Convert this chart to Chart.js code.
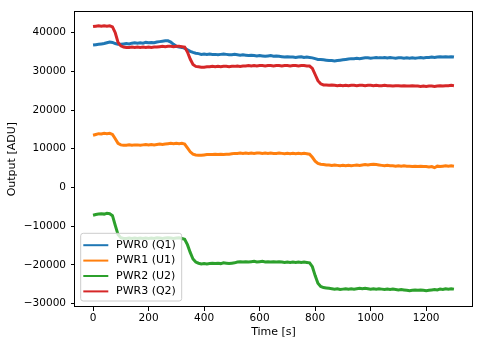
<!DOCTYPE html>
<html><head><meta charset="utf-8">
<script src="https://cdn.jsdelivr.net/npm/chart.js@4/dist/chart.umd.min.js"></script>
<style>html,body{margin:0;padding:0;background:#fff;}#wrap{width:483px;height:347px;}</style>
</head><body><div id="wrap"><canvas id="c" width="483" height="347"></canvas></div>
<script>
const time = [0,10,20,30,40,50,60,70,80,90,100,110,120,130,140,150,160,170,180,190,200,210,220,230,240,250,260,270,280,290,300,310,320,330,340,350,360,370,380,390,400,410,420,430,440,450,460,470,480,490,500,510,520,530,540,550,560,570,580,590,600,610,620,630,640,650,660,670,680,690,700,710,720,730,740,750,760,770,780,790,800,810,820,830,840,850,860,870,880,890,900,910,920,930,940,950,960,970,980,990,1000,1010,1020,1030,1040,1050,1060,1070,1080,1090,1100,1110,1120,1130,1140,1150,1160,1170,1180,1190,1200,1210,1220,1230,1240,1250,1260,1270,1280,1290,1300];

const pwr0 = [36800,36900,37000,37100,37200,37400,37600,37500,37200,37000,37000,37100,37200,37100,37300,37400,37300,37400,37300,37500,37400,37500,37400,37600,37700,37800,37900,37900,37600,37000,36500,36300,36200,36000,35600,35200,34900,34700,34600,34400,34500,34400,34500,34400,34400,34300,34400,34500,34400,34300,34300,34400,34300,34200,34300,34200,34100,34200,34100,34000,34100,34000,33900,34000,34100,33900,34000,33900,33800,33700,33800,33700,33700,33600,33700,33800,33600,33700,33600,33500,33300,33100,33100,33000,32900,32800,32800,32700,32800,32900,33000,33100,33200,33300,33300,33400,33300,33400,33500,33500,33400,33500,33600,33500,33500,33600,33500,33600,33500,33400,33500,33500,33400,33500,33400,33500,33400,33500,33600,33500,33600,33600,33700,33600,33700,33800,33700,33800,33700,33800,33700];

const pwr1 = [13500,13700,13900,13800,14000,13900,14000,13700,12600,11400,11000,10900,10900,11000,10900,11000,11000,10900,11000,11100,11000,11100,11000,11100,11200,11100,11200,11300,11400,11300,11400,11300,11400,11200,10200,9200,8600,8400,8300,8300,8400,8500,8500,8500,8600,8500,8600,8500,8600,8600,8700,8800,8800,8900,8800,8900,8800,8900,8800,8900,8900,8800,8900,8800,8900,8800,8800,8900,8800,8700,8800,8700,8800,8700,8800,8700,8800,8700,8600,7800,6800,6200,6000,5900,5800,5800,5700,5800,5700,5600,5700,5600,5700,5600,5700,5800,5700,5800,5900,5800,5900,6000,5900,5800,5700,5600,5700,5600,5600,5500,5600,5500,5600,5500,5500,5400,5500,5400,5500,5400,5400,5300,5400,5100,5500,5400,5500,5600,5500,5600,5500];

const pwr2 = [-7200,-7000,-6900,-6800,-6900,-6700,-6800,-7300,-9800,-12200,-13000,-13200,-13200,-13100,-13200,-13100,-13200,-13100,-13200,-13100,-13200,-13100,-13200,-13000,-13100,-13200,-13100,-13000,-13100,-13200,-13100,-13000,-13200,-13400,-14800,-16800,-18500,-19300,-19600,-19800,-19700,-19800,-19700,-19600,-19700,-19600,-19700,-19500,-19600,-19700,-19600,-19500,-19300,-19200,-19300,-19200,-19300,-19200,-19100,-19300,-19200,-19100,-19300,-19200,-19300,-19200,-19300,-19200,-19300,-19400,-19300,-19400,-19300,-19400,-19300,-19400,-19300,-19400,-19500,-20500,-22800,-24800,-25600,-25900,-26000,-26100,-26200,-26300,-26200,-26400,-26300,-26200,-26300,-26200,-26300,-26200,-26100,-26200,-26100,-26200,-26300,-26200,-26300,-26200,-26300,-26400,-26300,-26400,-26300,-26400,-26500,-26400,-26500,-26600,-26700,-26600,-26500,-26600,-26500,-26600,-26700,-26600,-26500,-26400,-26500,-26300,-26400,-26200,-26300,-26200,-26300];

const pwr3 = [41600,41700,41800,41700,41800,41700,41800,41500,40000,37500,36600,36300,36200,36200,36300,36200,36300,36200,36300,36200,36300,36200,36300,36300,36400,36500,36400,36500,36500,36400,36500,36500,36400,36300,35000,33200,31800,31300,31200,31100,31100,31200,31200,31300,31200,31300,31200,31300,31300,31200,31300,31300,31400,31300,31400,31400,31500,31400,31500,31400,31500,31500,31400,31500,31500,31400,31500,31500,31400,31500,31500,31400,31500,31500,31400,31500,31500,31400,31400,30800,29200,27600,26800,26500,26500,26400,26500,26400,26300,26400,26300,26400,26300,26400,26400,26300,26400,26400,26300,26400,26400,26300,26400,26300,26300,26400,26300,26300,26200,26300,26300,26200,26300,26200,26200,26300,26200,26200,26100,26200,26100,26200,26200,26100,26200,26300,26200,26300,26300,26400,26300];

const seriesLabels = ['PWR0 (Q1)','PWR1 (U1)','PWR2 (U2)','PWR3 (Q2)'];
const seriesColors = ['#1f77b4','#ff7f0e','#2ca02c','#d62728'];
const xTicks = [0,200,400,600,800,1000,1200];
const yTicks = [-30000,-20000,-10000,0,10000,20000,30000,40000];
const xTitle = 'Time [s]';
const yTitle = 'Output [ADU]';

const FAMILY = "'DejaVu Sans', sans-serif";
const allSeries = [pwr0, pwr1, pwr2, pwr3];

const datasets = allSeries.map((s, i) => ({
  label: seriesLabels[i],
  data: time.map((t, k) => ({x: t, y: s[k]})),
  borderColor: seriesColors[i],
  backgroundColor: seriesColors[i],
  borderWidth: 3,
  pointRadius: 0,
  fill: false,
  tension: 0,
  order: allSeries.length - 1 - i
}));

const framePlugin = {
  id: 'frameLegend',
  afterDatasetsDraw(chart) {
    const ctx = chart.ctx;
    const a = chart.chartArea;
    ctx.save();
    ctx.strokeStyle = '#000';
    ctx.lineWidth = 1;
    ctx.strokeRect(Math.round(a.left) - 0.5, Math.round(a.top) + 0.5, Math.round(a.right - a.left) + 1, Math.round(a.bottom - a.top) - 1);
    // legend
    const bx = a.left + 5.7, by = a.bottom - 6 - 67.7, bw = 101, bh = 67.7, r = 2.5;
    ctx.beginPath();
    ctx.moveTo(bx + r, by);
    ctx.lineTo(bx + bw - r, by); ctx.arcTo(bx + bw, by, bx + bw, by + r, r);
    ctx.lineTo(bx + bw, by + bh - r); ctx.arcTo(bx + bw, by + bh, bx + bw - r, by + bh, r);
    ctx.lineTo(bx + r, by + bh); ctx.arcTo(bx, by + bh, bx, by + bh - r, r);
    ctx.lineTo(bx, by + r); ctx.arcTo(bx, by, bx + r, by, r);
    ctx.closePath();
    ctx.fillStyle = 'rgba(255,255,255,0.8)';
    ctx.fill();
    ctx.strokeStyle = '#cccccc';
    ctx.lineWidth = 1;
    ctx.stroke();
    ctx.font = '11px ' + FAMILY;
    ctx.textBaseline = 'middle';
    ctx.textAlign = 'left';
    chart.data.datasets.forEach((d, i) => {
      const y = by + 11.9 + i * 15.4;
      ctx.strokeStyle = d.borderColor;
      ctx.lineWidth = 2;
      ctx.beginPath();
      ctx.moveTo(bx + 2.6, y); ctx.lineTo(bx + 27.6, y);
      ctx.stroke();
      ctx.fillStyle = '#000';
      ctx.fillText(d.label, bx + 35.3, y);
    });
    ctx.restore();
  }
};

const fmt = v => String(v).replace('-', '\u2212');

new Chart(document.getElementById('c'), {
  type: 'line',
  data: { datasets },
  plugins: [framePlugin],
  options: {
    responsive: false,
    animation: false,
    devicePixelRatio: 1,
    layout: { padding: { top: 11, right: 11, left: 0, bottom: 0 } },
    plugins: { legend: { display: false }, tooltip: { enabled: false } },
    scales: {
      x: {
        type: 'linear', min: -65, max: 1365,
        afterBuildTicks: s => { s.ticks = xTicks.map(v => ({value: v})); },
        afterFit: s => { s.height = 40; },
        ticks: { color: '#000', font: { family: FAMILY, size: 10.5 }, maxRotation: 0, autoSkip: false, padding: 1, callback: v => fmt(v) },
        grid: { display: true, drawOnChartArea: false, drawTicks: true, tickLength: 4, color: '#000', tickWidth: 1 },
        border: { display: false },
        title: { display: true, text: xTitle, color: '#000', font: { family: FAMILY, size: 11 }, padding: { top: 0, bottom: 8 } }
      },
      y: {
        type: 'linear', min: -30920, max: 45540,
        afterBuildTicks: s => { s.ticks = yTicks.map(v => ({value: v})); },
        afterFit: s => { s.width = 75; },
        ticks: { color: '#000', font: { family: FAMILY, size: 10.5 }, padding: 5, autoSkip: false, callback: v => fmt(v) },
        grid: { display: true, drawOnChartArea: false, drawTicks: true, tickLength: 4, color: '#000', tickWidth: 1 },
        border: { display: false },
        title: { display: true, text: yTitle, color: '#000', font: { family: FAMILY, size: 11 }, padding: { top: 5.5, bottom: 0 } }
      }
    }
  }
});
</script></body></html>
